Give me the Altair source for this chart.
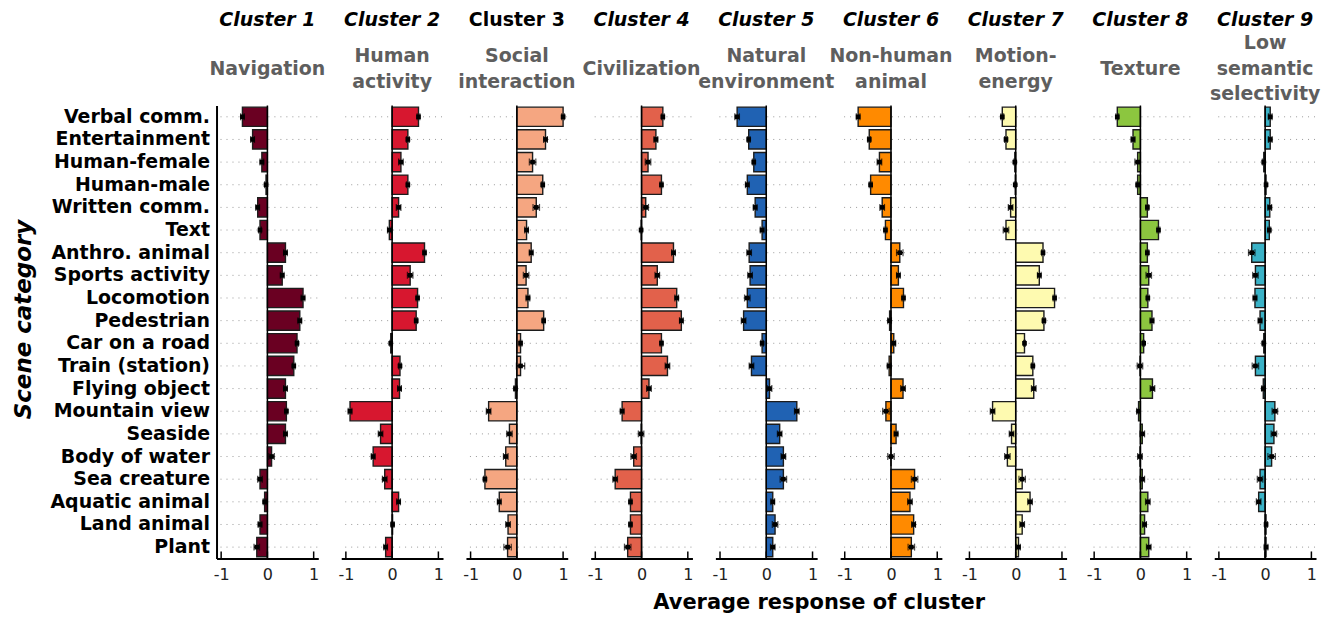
import altair as alt
import pandas as pd

categories = ["Verbal comm.", "Entertainment", "Human-female", "Human-male",
              "Written comm.", "Text", "Anthro. animal", "Sports activity",
              "Locomotion", "Pedestrian", "Car on a road", "Train (station)",
              "Flying object", "Mountain view", "Seaside", "Body of water",
              "Sea creature", "Aquatic animal", "Land animal", "Plant"]

cluster_titles = ["Cluster 1", "Cluster 2", "Cluster 3", "Cluster 4", "Cluster 5",
                  "Cluster 6", "Cluster 7", "Cluster 8", "Cluster 9"]
cluster_names = [["Navigation"], ["Human", "activity"], ["Social", "interaction"],
                 ["Civilization"], ["Natural", "environment"], ["Non-human", "animal"],
                 ["Motion-", "energy"], ["Texture"], ["Low", "semantic", "selectivity"]]
colors = ["#6a0022", "#d7172f", "#f5a681", "#e2614b", "#2062b3",
          "#ff8a00", "#fefab0", "#8cc63f", "#3ab2c7"]

c1 = [-0.54, -0.32, -0.12, -0.03, -0.21, -0.16, 0.39, 0.32, 0.77, 0.70,
      0.64, 0.57, 0.39, 0.41, 0.39, 0.09, -0.16, -0.06, -0.16, -0.23]
c2 = [0.57, 0.34, 0.19, 0.34, 0.14, -0.06, 0.70, 0.39, 0.55, 0.52,
      -0.03, 0.17, 0.16, -0.91, -0.25, -0.41, -0.16, 0.14, 0.01, -0.14]
c3 = [1.00, 0.62, 0.34, 0.56, 0.42, 0.21, 0.31, 0.20, 0.24, 0.58,
      0.08, 0.08, -0.03, -0.61, -0.16, -0.24, -0.69, -0.38, -0.19, -0.20]
c4 = [0.46, 0.31, 0.14, 0.43, 0.09, -0.01, 0.69, 0.34, 0.76, 0.86,
      0.43, 0.56, 0.16, -0.42, -0.01, -0.17, -0.57, -0.24, -0.24, -0.30]
c5 = [-0.63, -0.38, -0.27, -0.41, -0.24, -0.09, -0.37, -0.35, -0.41, -0.49,
      -0.09, -0.32, 0.07, 0.66, 0.29, 0.37, 0.37, 0.14, 0.19, 0.14]
c6 = [-0.71, -0.47, -0.25, -0.44, -0.19, -0.12, 0.19, 0.16, 0.27, -0.03,
      0.06, -0.04, 0.26, -0.11, 0.11, 0.00, 0.51, 0.41, 0.49, 0.44]
c7 = [-0.29, -0.21, -0.02, -0.01, -0.11, -0.21, 0.59, 0.51, 0.84, 0.61,
      0.19, 0.37, 0.39, -0.50, -0.09, -0.18, 0.14, 0.31, 0.14, 0.06]
c8 = [-0.50, -0.16, -0.06, -0.06, 0.15, 0.39, 0.15, 0.18, 0.16, 0.25,
      0.07, -0.01, 0.26, -0.04, 0.04, -0.01, 0.04, 0.16, 0.09, 0.18]
c9 = [0.11, 0.11, -0.03, 0.02, 0.10, 0.09, -0.29, -0.21, -0.22, -0.11,
      -0.03, -0.21, -0.04, 0.21, 0.19, 0.14, -0.11, -0.14, 0.02, 0.02]
values = [c1, c2, c3, c4, c5, c6, c7, c8, c9]

e1 = [0.04, 0.04, 0.04, 0.03, 0.04, 0.03, 0.04, 0.04, 0.04, 0.04,
      0.03, 0.03, 0.04, 0.03, 0.04, 0.06, 0.05, 0.03, 0.04, 0.06]
e2 = [0.03, 0.03, 0.05, 0.03, 0.05, 0.04, 0.03, 0.06, 0.03, 0.03,
      0.02, 0.03, 0.04, 0.04, 0.05, 0.04, 0.05, 0.04, 0.03, 0.04]
e3 = [0.03, 0.04, 0.07, 0.03, 0.07, 0.04, 0.04, 0.06, 0.04, 0.03,
      0.03, 0.09, 0.03, 0.05, 0.06, 0.05, 0.03, 0.04, 0.05, 0.08]
e4 = [0.03, 0.04, 0.06, 0.03, 0.06, 0.02, 0.04, 0.05, 0.04, 0.04,
      0.03, 0.05, 0.05, 0.04, 0.06, 0.06, 0.05, 0.03, 0.03, 0.07]
e5 = [0.05, 0.03, 0.03, 0.04, 0.04, 0.04, 0.05, 0.05, 0.06, 0.05,
      0.03, 0.05, 0.05, 0.05, 0.05, 0.05, 0.07, 0.04, 0.06, 0.05]
e6 = [0.04, 0.03, 0.05, 0.03, 0.05, 0.03, 0.07, 0.04, 0.03, 0.04,
      0.04, 0.04, 0.05, 0.07, 0.04, 0.07, 0.07, 0.05, 0.04, 0.07]
e7 = [0.03, 0.03, 0.02, 0.02, 0.05, 0.06, 0.03, 0.04, 0.03, 0.03,
      0.02, 0.03, 0.05, 0.05, 0.05, 0.06, 0.07, 0.05, 0.05, 0.04]
e8 = [0.03, 0.04, 0.06, 0.03, 0.03, 0.03, 0.03, 0.06, 0.03, 0.04,
      0.02, 0.06, 0.05, 0.04, 0.05, 0.05, 0.05, 0.05, 0.04, 0.05]
e9 = [0.04, 0.04, 0.03, 0.02, 0.04, 0.03, 0.07, 0.06, 0.04, 0.04,
      0.03, 0.07, 0.03, 0.06, 0.06, 0.08, 0.06, 0.05, 0.03, 0.04]
errors = [e1, e2, e3, e4, e5, e6, e7, e8, e9]

tick_values = [-1, 0, 1]

W, H = 102, 454
FONT = "DejaVu Sans"
LINE_H = 26

xscale = alt.Scale(domain=[-1.1, 1.1], nice=False, zero=False)
one = pd.DataFrame({"z": [0]})
ticks_df = pd.DataFrame({"t": tick_values})

panels = []
for i in range(9):
    df = pd.DataFrame({"cat": categories, "v": values[i], "e": errors[i]})
    df["lo"] = df["v"] - df["e"]
    df["hi"] = df["v"] + df["e"]

    if i == 0:
        yaxis = alt.Axis(title="Scene category", titleFontSize=23, titleFontWeight="bold",
                         titleFontStyle="italic", titleFont=FONT, titleColor="black",
                         titlePadding=14, titleY=214, labelFontSize=19, labelFontWeight="bold",
                         labelFont=FONT, labelColor="black", labelPadding=7,
                         ticks=False, domain=True, domainColor="black", domainWidth=2,
                         grid=False, labelLimit=400)
    else:
        yaxis = None
    yenc = alt.Y("cat:N", sort=categories,
                 scale=alt.Scale(paddingInner=0.15, paddingOuter=0.075), axis=yaxis)

    base = alt.Chart(df)

    grid = base.mark_rule(strokeDash=[1, 5], color="#9a9a9a", strokeWidth=1).encode(
        y=yenc, x=alt.value(4), x2=alt.value(W))

    bars = base.mark_bar(color=colors[i], stroke="#1c1c1c", strokeWidth=1.4).encode(
        x=alt.X("v:Q", scale=xscale, stack=None,
                axis=alt.Axis(values=tick_values, labelExpr="'' + datum.value",
                              ticks=False, domainColor="black", domainWidth=2,
                              labelFontSize=16, labelFont=FONT, labelColor="#222",
                              labelPadding=8, grid=False, title=None)),
        x2=alt.datum(0),
        y=yenc)

    zero = alt.Chart(one).mark_rule(color="black", strokeWidth=1.5).encode(
        x=alt.X("z:Q", scale=xscale))

    tk = alt.Chart(ticks_df).mark_rule(color="black", strokeWidth=1.5).encode(
        x=alt.X("t:Q", scale=xscale), y=alt.value(H - 7), y2=alt.value(H))

    err = base.mark_rule(color="black", strokeWidth=1.5).encode(
        x=alt.X("lo:Q", scale=xscale), x2="hi:Q", y=yenc)
    caplo = base.mark_tick(color="black", thickness=1.2, size=7, orient="vertical").encode(
        x=alt.X("lo:Q", scale=xscale), y=yenc)
    caphi = base.mark_tick(color="black", thickness=1.2, size=7, orient="vertical").encode(
        x=alt.X("hi:Q", scale=xscale), y=yenc)
    mean = base.mark_square(color="black", size=22, opacity=1).encode(
        x=alt.X("v:Q", scale=xscale), y=yenc)

    title = alt.Chart(one).mark_text(
        fontSize=19, fontWeight="bold", fontStyle=("normal" if i == 2 else "italic"),
        font=FONT, color="black", baseline="middle", align="center").encode(
        x=alt.value(W / 2), y=alt.value(-86), text=alt.value(cluster_titles[i]))

    n_lines = len(cluster_names[i])
    sub = alt.Chart(one).mark_text(
        fontSize=19, fontWeight="bold", font=FONT, color="#5e5e5e",
        baseline="middle", align="center", lineHeight=LINE_H).encode(
        x=alt.value(W / 2), y=alt.value(-37 - (n_lines - 1) * LINE_H / 2),
        text=alt.value(cluster_names[i]))

    layers = [grid, bars, zero, tk, err, caplo, caphi, mean, title, sub]
    if i == 4:
        xt = alt.Chart(one).mark_text(
            fontSize=21, fontWeight="bold", font=FONT, color="black",
            baseline="middle", align="center").encode(
            x=alt.value(104), y=alt.value(499), text=alt.value("Average response of cluster"))
        layers.append(xt)

    panel = alt.layer(*layers).properties(width=W, height=H)
    panels.append(panel)

chart = alt.hconcat(*panels, spacing=23, bounds="flush").properties(
    padding={"left": 4, "top": 2, "right": 5, "bottom": 5},
    background="white"
).configure_view(strokeWidth=0, stroke="transparent")

chart.save("out.html", embed_options={"renderer": "svg", "actions": False})
